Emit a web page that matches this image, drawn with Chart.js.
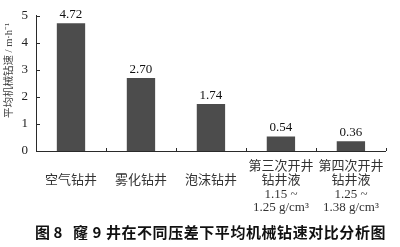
<!DOCTYPE html>
<html>
<head>
<meta charset="utf-8">
<script src="https://cdn.jsdelivr.net/npm/chart.js@4/dist/chart.umd.min.js"></script>
<style>
  html, body { margin: 0; padding: 0; background: #fff; }
  #wrap { width: 400px; height: 247px; }
</style>
</head>
<body>
<div id="wrap"><canvas id="c" width="400" height="247"></canvas></div>
<script>
// Average rate of penetration under different drilling modes
const categories = [
  ['空气钻井', ''],
  ['雾化钻井', ''],
  ['泡沫钻井', ''],
  ['第三次开井', '钻井液', '1.15 ~', '1.25 g/cm³'],
  ['第四次开井', '钻井液', '1.25 ~', '1.38 g/cm³']
];
const rop = [4.72, 2.70, 1.74, 0.54, 0.36];
const yTicks = [0, 1, 2, 3, 4, 5];
const yTitle = '平均机械钻速 / m·h⁻¹';
const figNo = '图 8';
const captionText = '窿 9 井在不同压差下平均机械钻速对比分析图';

const SERIF = '"Liberation Serif", "Noto Sans CJK SC", serif';
const CJK_BOLD = 'bold 15px "Noto Sans CJK SC", sans-serif';
const INK = '#2a2a2a';

// Short inward tick marks on both axes
const innerTicks = {
  id: 'innerTicks',
  afterDraw(chart) {
    const ctx = chart.ctx;
    const x = chart.scales.x, y = chart.scales.y;
    ctx.save();
    ctx.strokeStyle = INK;
    ctx.lineWidth = 1;
    ctx.beginPath();
    yTicks.forEach(v => {
      const py = Math.round(y.getPixelForValue(v)) + 0.5;
      ctx.moveTo(y.right, py);
      ctx.lineTo(y.right + 4, py);
    });
    const n = categories.length;
    const step = x.getPixelForValue(1) - x.getPixelForValue(0);
    for (let i = 1; i <= n; i++) {
      const px = Math.round(x.getPixelForValue(i - 1) + step / 2) + 0.5;
      ctx.moveTo(px, x.top);
      ctx.lineTo(px, x.top - 3);
    }
    ctx.stroke();
    ctx.restore();
  }
};

// Value printed above each bar
const valueLabels = {
  id: 'valueLabels',
  afterDatasetsDraw(chart) {
    const ctx = chart.ctx;
    const meta = chart.getDatasetMeta(0);
    ctx.save();
    ctx.font = '13px ' + SERIF;
    ctx.fillStyle = '#111';
    ctx.textAlign = 'center';
    ctx.textBaseline = 'bottom';
    meta.data.forEach((bar, i) => {
      ctx.fillText(rop[i].toFixed(2), bar.x, bar.y - 2);
    });
    ctx.restore();
  }
};

// Rotated y-axis title and the figure caption below the plot
const annotations = {
  id: 'annotations',
  afterDraw(chart) {
    const ctx = chart.ctx;
    const area = chart.chartArea;
    ctx.save();
    // y-axis title, a little above the axis midpoint
    ctx.translate(9, (area.top + area.bottom) / 2 - 13);
    ctx.rotate(-Math.PI / 2);
    ctx.font = '10.5px ' + SERIF;
    ctx.fillStyle = '#444';
    ctx.textAlign = 'center';
    ctx.textBaseline = 'middle';
    ctx.fillText(yTitle, 0, 0);
    ctx.restore();

    // caption: figure number, then the spaced-out title
    ctx.save();
    ctx.font = CJK_BOLD;
    ctx.fillStyle = '#111';
    ctx.textBaseline = 'middle';
    ctx.textAlign = 'left';
    const cy = chart.height - 15;
    ctx.fillText(figNo, 35, cy);
    const startX = 73, endX = 386;
    const natural = ctx.measureText(captionText).width;
    const gaps = [...captionText].length;
    ctx.letterSpacing = Math.max(0, (endX - startX - natural) / gaps) + 'px';
    ctx.fillText(captionText, startX, cy);
    ctx.restore();
  }
};

new Chart(document.getElementById('c'), {
  type: 'bar',
  data: {
    labels: categories,
    datasets: [{
      data: rop,
      backgroundColor: '#4c4c4c',
      borderWidth: 0,
      barPercentage: 1,
      categoryPercentage: 0.405
    }]
  },
  options: {
    responsive: false,
    animation: false,
    devicePixelRatio: 1,
    layout: { padding: { top: 12, right: 6, bottom: 27, left: 0 } },
    plugins: {
      legend: { display: false },
      tooltip: { enabled: false },
      title: { display: false }
    },
    scales: {
      x: {
        grid: { display: false, drawTicks: false },
        border: { display: true, color: INK, width: 1 },
        afterFit: s => { s.height = 69; },
        ticks: {
          color: '#333',
          maxRotation: 0,
          autoSkip: false,
          crossAlign: 'center',
          padding: 16,
          font: { family: SERIF, size: 13, lineHeight: 1.05 }
        }
      },
      y: {
        min: 0,
        max: 5,
        afterFit: s => { s.width = 36; },
        afterBuildTicks: s => { s.ticks = yTicks.map(v => ({ value: v })); },
        grid: { display: false, drawTicks: false },
        border: { display: true, color: INK, width: 1 },
        ticks: {
          color: '#222',
          padding: 8,
          font: { family: SERIF, size: 13 }
        }
      }
    }
  },
  plugins: [innerTicks, valueLabels, annotations]
});
</script>
</body>
</html>
